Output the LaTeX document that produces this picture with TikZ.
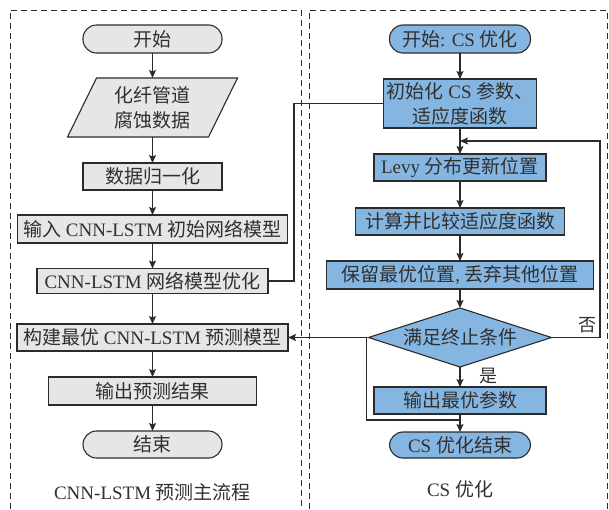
\documentclass[tikz,border=0pt]{standalone}
\usepackage{fontspec}
\setmainfont{Liberation Serif}
\newfontfamily\cjk{Noto Sans CJK SC}
\newcommand\zh[1]{{\cjk #1}}
\usetikzlibrary{arrows.meta,backgrounds}

\definecolor{boxgrey}{HTML}{E6E6E6}
\definecolor{boxblue}{HTML}{85B6E2}
\definecolor{ink}{HTML}{2B2B2B}
\definecolor{txt}{HTML}{303030}

\begin{document}
\begin{tikzpicture}[x=1pt,y=-1pt,
  base/.style={draw=ink, line width=1.1pt, inner sep=0pt, outer sep=0pt,
    text=txt, font=\fontsize{19}{25}\selectfont, align=center},
  greybox/.style={base, fill=boxgrey},
  bluebox/.style={base, fill=boxblue},
  shapeonly/.style={base, draw=none},
  term/.style={rounded corners=13.5pt},
  dim/.style 2 args={minimum width=#1, minimum height=#2},
  arr/.style={draw=ink, line width=1.1pt, -{Stealth[length=8pt,width=7pt,inset=1.5pt]}},
  link/.style={draw=ink, line width=1.1pt},
  frame/.style={draw=ink, line width=1pt, dash pattern=on 6pt off 4pt},
  caption/.style={text=txt, font=\fontsize{19}{23}\selectfont, inner sep=0pt},
  tag/.style={text=txt, font=\fontsize{18}{22}\selectfont, inner sep=0pt}]

\useasboundingbox (0,0) rectangle (609,509);

% dashed panels
\draw[frame] (10,509) -- (10,10) -- (301,10) -- (301,509);
\draw[frame] (309,509) -- (309,10) -- (607,10) -- (607,509);

% ---- main CNN-LSTM flow ----
\node[greybox, term, dim={139pt}{28pt}] (start) at (152.5,39) {\zh{开始}};
\node[shapeonly, dim={170pt}{59pt}] (data) at (152.5,107.5) {\zh{化纤管道}\\\zh{腐蚀数据}};
\node[greybox, dim={139pt}{27pt}] (norm) at (152.5,176.5) {\zh{数据归一化}};
\node[greybox, dim={270pt}{28pt}] (input) at (152.5,229) {\zh{输入} CNN-LSTM \zh{初始网络模型}};
\node[greybox, dim={231pt}{25pt}] (opt) at (152.5,281) {CNN-LSTM \zh{网络模型优化}};
\node[greybox, dim={271pt}{27pt}] (build) at (152.5,337.5) {\zh{构建最优} CNN-LSTM \zh{预测模型}};
\node[greybox, dim={208pt}{28pt}] (out) at (152.5,391) {\zh{输出预测结果}};
\node[greybox, term, dim={139pt}{27pt}] (end) at (152.5,444.5) {\zh{结束}};
\node[caption] (cap1) at (152.5,492) {CNN-LSTM \zh{预测主流程}};

% input data parallelogram
\begin{scope}[on background layer]
  \draw[draw=ink, line width=1.1pt, fill=boxgrey]
    ([xshift=29pt]data.north west) -- (data.north east)
    -- ([xshift=-29pt]data.south east) -- (data.south west) -- cycle;
\end{scope}

\draw[arr] (start) -- (data);
\draw[arr] (data) -- (norm);
\draw[arr] (norm) -- (input);
\draw[arr] (input) -- (opt);
\draw[arr] (opt) -- (build);
\draw[arr] (build) -- (out);
\draw[arr] (out) -- (end);

% ---- CS optimisation ----
\node[bluebox, term, dim={141pt}{28pt}] (cstart) at (460,39) {\zh{开始}: CS \zh{优化}};
\node[bluebox, dim={153pt}{49pt}] (init) at (460,103.5) {\zh{初始化} CS \zh{参数、}\\\zh{适应度函数}};
\node[bluebox, dim={172pt}{27pt}] (levy) at (460,167.5) {Levy \zh{分布更新位置}};
\node[bluebox, dim={209pt}{27pt}] (calc) at (460,221.5) {\zh{计算并比较适应度函数}};
\node[bluebox, dim={267pt}{28pt}] (keep) at (460,275) {\zh{保留最优位置}, \zh{丢弃其他位置}};
\node[shapeonly, dim={183pt}{59pt}] (cond) at (460,337.5) {\zh{满足终止条件}};
\node[bluebox, dim={172pt}{27pt}] (cout) at (460,400.5) {\zh{输出最优参数}};
\node[bluebox, term, dim={141pt}{26pt}] (cend) at (460,445) {CS \zh{优化结束}};
\node[caption] (cap2) at (460,489) {CS \zh{优化}};

% decision diamond
\begin{scope}[on background layer]
  \draw[draw=ink, line width=1.1pt, fill=boxblue]
    (cond.north) -- (cond.east) -- (cond.south) -- (cond.west) -- cycle;
\end{scope}

\node[tag] (no) at (587,325) {\zh{否}};
\node[tag] (yes) at (488,376) {\zh{是}};

\draw[arr] (cstart) -- (init);
\draw[arr] (init) -- (levy);
\draw[arr] (levy) -- (calc);
\draw[arr] (calc) -- (keep);
\draw[arr] (keep) -- (cond);
\draw[arr] (cond) -- (cout);

% junction below the output of the optimiser
\coordinate (join) at (460,420);
\coordinate (loopin) at (460,141);
\draw[link] (cout.south) -- (join);
\draw[arr] (join) -- (cend);

% optimal parameters back to the main flow
\draw[arr] (join) -- ([xshift=-2pt]cond.west |- join) |- (build.east);

% "no" branch: loop back above the Levy update
\draw[arr] (cond.east) -- (600,337.5) |- (loopin);

% hand-over from the main flow to the optimiser
\draw[link] (opt.east) -- ++(26,0) |- (init.west);

\end{tikzpicture}
\end{document}
